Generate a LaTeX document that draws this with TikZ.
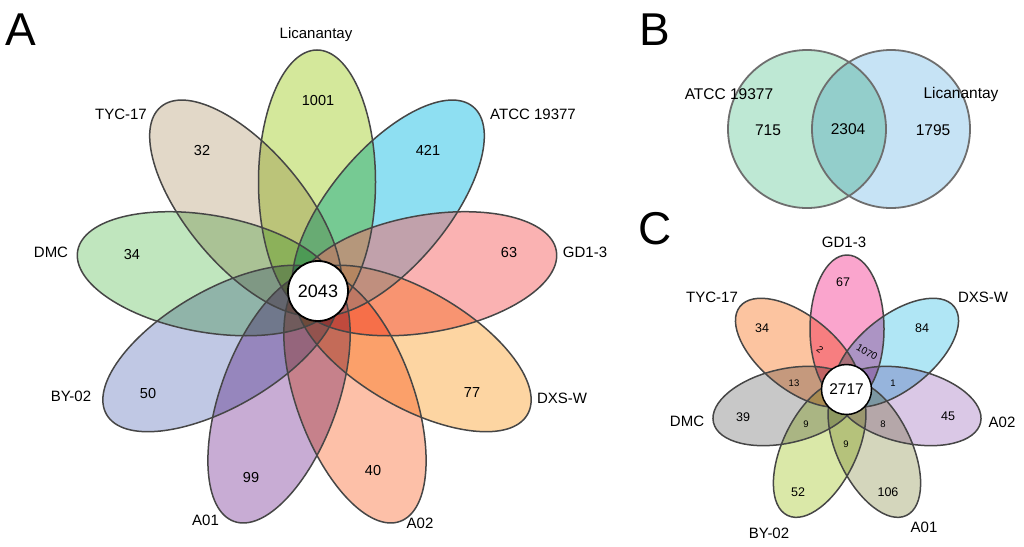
\documentclass[tikz,border=0pt]{standalone}
\usepackage{fontspec}
\setmainfont{Liberation Sans}
\usetikzlibrary{calc}
% panel A colours
\definecolor{aLic}{RGB}{212,232,155}
\definecolor{aATCC}{RGB}{142,223,242}
\definecolor{aGD}{RGB}{250,178,178}
\definecolor{aGDbase}{RGB}{245,101,101}
\definecolor{aDXS}{RGB}{253,213,162}
\definecolor{aAzt}{RGB}{253,192,168}
\definecolor{aAzo}{RGB}{200,172,212}
\definecolor{aBY}{RGB}{192,200,228}
\definecolor{aDMC}{RGB}{192,230,190}
\definecolor{aTYC}{RGB}{226,216,200}
% panel B colours
\definecolor{bL}{RGB}{190,232,212}
\definecolor{bR}{RGB}{198,227,245}
% panel C colours
\definecolor{cGD}{RGB}{250,165,205}
\definecolor{cDXS}{RGB}{176,230,245}
\definecolor{cAzt}{RGB}{218,200,230}
\definecolor{cAzo}{RGB}{212,214,188}
\definecolor{cBY}{RGB}{218,232,168}
\definecolor{cDMC}{RGB}{200,200,200}
\definecolor{cTYC}{RGB}{252,196,160}
\definecolor{edgeA}{RGB}{70,70,70}
\definecolor{edgeB}{RGB}{110,110,110}
\tikzset{
  petalline/.style={draw=edgeA, line width=1.5pt},
  circline/.style={draw=edgeB, line width=1.8pt},
  panel/.style={font=\fontsize{46}{52}\selectfont, inner sep=0pt, text height=33pt, text depth=0pt},
  lblA/.style={font=\fontsize{15}{18}\selectfont, inner sep=0pt, text height=10.7pt, text depth=0pt},
  numA/.style={font=\fontsize{14.5}{17}\selectfont, inner sep=0pt, text height=10.4pt, text depth=0pt},
  lblB/.style={font=\fontsize{15.5}{18}\selectfont, inner sep=0pt, text height=11.1pt, text depth=0pt},
  lblC/.style={font=\fontsize{15}{18}\selectfont, inner sep=0pt, text height=10.7pt, text depth=0pt},
  numC/.style={font=\fontsize{12.5}{15}\selectfont, inner sep=0pt, text height=9pt, text depth=0pt},
  smallC/.style={font=\fontsize{9.5}{11}\selectfont, inner sep=0pt, text height=6.8pt, text depth=0pt},
  core/.style={circle, draw=black, fill=white, inner sep=0pt},
}
\begin{document}
\begin{tikzpicture}[x=1pt,y=-1pt]
\useasboundingbox (0,0) rectangle (1024,546);

% ---------------- Panel A ----------------
\begin{scope}[shift={(317,293)}]
  \begin{scope}[blend group=multiply]
    \foreach \a/\c in {90/aLic,50/aATCC,-30/aDXS,-70/aAzt,-110/aAzo,-150/aBY,170/aDMC,130/aTYC}
      \fill[\c, rotate=\a] (111,0) ellipse [x radius=132, y radius=58.5];
    % GD1-3 outside ATCC 19377
    \begin{scope}
      \clip[rotate=10] (111,0) ellipse [x radius=132, y radius=58.5];
      \fill[aGD, even odd rule] {[rotate=10] (111,0) ellipse [x radius=132, y radius=58.5]}
                                {[rotate=50] (111,0) ellipse [x radius=132, y radius=58.5]};
    \end{scope}
  \end{scope}
  % GD1-3 inside ATCC 19377 (laid over it)
  \begin{scope}
    \clip[rotate=10] (111,0) ellipse [x radius=132, y radius=58.5];
    \clip[rotate=50] (111,0) ellipse [x radius=132, y radius=58.5];
    \fill[aGDbase, fill opacity=0.5] (-300,-300) rectangle (300,300);
  \end{scope}
  \foreach \a in {90,50,10,-30,-70,-110,-150,170,130}
    \draw[petalline, rotate=\a] (111,0) ellipse [x radius=132, y radius=58.5];
\end{scope}
\node[core, minimum size=60pt, line width=1.8pt, font=\fontsize{18}{21}\selectfont] (coreA) at (318,291) {2043};

\node[panel] (pA) at (21,28.5) {A};
\node[lblA] (lLic) at (316,33) {Licanantay};
\node[lblA] (lTYC) at (121,114) {TYC-17};
\node[lblA] (lATCC) at (533,114) {ATCC 19377};
\node[lblA] (lDMC) at (51,252) {DMC};
\node[lblA] (lGD) at (585,252) {GD1-3};
\node[lblA] (lBY) at (71,396) {BY-02};
\node[lblA] (lDXS) at (562,398.5) {DXS-W};
\node[lblA] (lAzo) at (205.5,520) {A01};
\node[lblA] (lAzt) at (420,523.5) {A02};

\node[numA] (nLic) at (318,100) {1001};
\node[numA] (nATCC) at (428,150) {421};
\node[numA] (nTYC) at (202,150) {32};
\node[numA] (nDMC) at (132,254) {34};
\node[numA] (nGD) at (509,252) {63};
\node[numA] (nBY) at (148,393) {50};
\node[numA] (nDXS) at (472,392) {77};
\node[numA] (nAzo) at (251,477) {99};
\node[numA] (nAzt) at (373,470) {40};

% ---------------- Panel B ----------------
\node[panel] (pB) at (654.5,29) {B};
\begin{scope}[blend group=multiply]
  \fill[bL] (807,129) circle [radius=79];
  \fill[bR] (891,129) circle [radius=79];
\end{scope}
\draw[circline] (807,129) circle [radius=79];
\draw[circline] (891,129) circle [radius=79];
\node[lblB] (bATCC) at (729,94) {ATCC 19377};
\node[lblB] (bLic) at (961,93) {Licanantay};
\node[lblB] (b715) at (768,130) {715};
\node[lblB] (b2304) at (848,129) {2304};
\node[lblB] (b1795) at (933,130) {1795};

% ---------------- Panel C ----------------
\node[panel] (pC) at (655,228) {C};
\begin{scope}[shift={(847,392)}]
  \begin{scope}[blend group=multiply]
    \foreach \a/\c in {90/cGD,38.571/cDXS,-12.857/cAzt,-64.286/cAzo,-115.714/cBY,-167.143/cDMC,141.429/cTYC}
      \fill[\c, rotate=\a] (63,0) ellipse [x radius=74, y radius=37];
  \end{scope}
  \foreach \a in {90,38.571,-12.857,-64.286,-115.714,-167.143,141.429}
    \draw[petalline, rotate=\a] (63,0) ellipse [x radius=74, y radius=37];
\end{scope}
\node[core, minimum size=50pt, line width=1.5pt, font=\fontsize{15.5}{18}\selectfont] (coreC) at (846.5,389.5) {2717};

\node[lblC] (cLGD) at (844,242) {GD1-3};
\node[lblC] (cLTYC) at (712,297) {TYC-17};
\node[lblC] (cLDXS) at (983,297) {DXS-W};
\node[lblC] (cLDMC) at (687,421) {DMC};
\node[lblC] (cLAzt) at (1002,422) {A02};
\node[lblC] (cLBY) at (769,533) {BY-02};
\node[lblC] (cLAzo) at (924,527) {A01};

\node[numC] (cnGD) at (843,282) {67};
\node[numC] (cnTYC) at (762,328) {34};
\node[numC] (cnDXS) at (922,328) {84};
\node[numC] (cnDMC) at (743,417) {39};
\node[numC] (cnAzt) at (948,416) {45};
\node[numC] (cnBY) at (798,492) {52};
\node[numC] (cnAzo) at (888,492) {106};
\node[smallC, rotate=-40] (cs2) at (820,350) {2};
\node[smallC, font=\fontsize{10}{12}\selectfont, text height=7.2pt, rotate=-30] (cs1070) at (867,352) {1070};
\node[smallC] (cs13) at (794,383) {13};
\node[smallC] (cs1) at (893,383) {1};
\node[smallC] (cs9a) at (806,424) {9};
\node[smallC] (cs8) at (883,424) {8};
\node[smallC] (cs9b) at (846,444) {9};
\end{tikzpicture}
\end{document}
